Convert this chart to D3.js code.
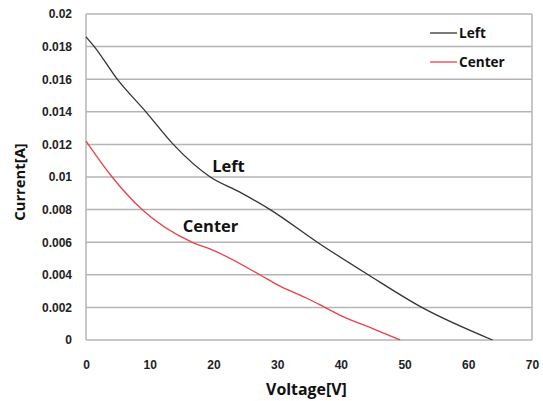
<!DOCTYPE html>
<html lang="en">
<head>
<meta charset="UTF-8">
<title>Current vs Voltage</title>
<script src="https://d3js.org/d3.v7.min.js"></script>
<style>
    body { margin: 0; background: #fff; }
    .lbl { font-family: "Open Sans", sans-serif; font-weight: bold; fill: #111; }
</style>
</head>
<body>
<svg id="chart" width="543" height="401"></svg>
<script>
    // Data
    const leftVoltage = [0, 1.3, 4.9, 9.4, 13.7, 19.5, 24, 28.9, 36.3, 44.3, 52.7, 63.8];
    const leftCurrent = [0.0186, 0.018, 0.016, 0.014, 0.012, 0.010, 0.0091, 0.008, 0.006, 0.004, 0.002, 0];
    const centerVoltage = [0, 4.1, 8.8, 16.6, 20, 27.3, 30, 35, 37.5, 40, 45, 49.3];
    const centerCurrent = [0.0122, 0.010, 0.008, 0.006, 0.0055, 0.004, 0.0034, 0.0025, 0.002, 0.0015, 0.0007, 0];
    const xTicks = [0, 10, 20, 30, 40, 50, 60, 70];
    const yTicks = [0, 0.002, 0.004, 0.006, 0.008, 0.01, 0.012, 0.014, 0.016, 0.018, 0.02];

    const series = [
        { name: "Left", color: "#333333", v: leftVoltage, c: leftCurrent },
        { name: "Center", color: "#e8414a", v: centerVoltage, c: centerCurrent }
    ];

    const margin = { top: 14, right: 11, bottom: 61, left: 86 };
    const width = 543 - margin.left - margin.right;
    const height = 401 - margin.top - margin.bottom;

    const svg = d3.select("#chart")
        .append("g")
        .attr("transform", `translate(${margin.left},${margin.top})`);

    const x = d3.scaleLinear().domain([0, 70]).range([0, width]);
    const y = d3.scaleLinear().domain([0, 0.02]).range([height, 0]);

    // Gridlines
    svg.append("g")
        .selectAll("line")
        .data(yTicks)
        .enter()
        .append("line")
        .attr("x1", 0).attr("x2", width)
        .attr("y1", d => y(d)).attr("y2", d => y(d))
        .attr("stroke", "#b4b4b4")
        .attr("stroke-width", 1.5);

    // Plot border sides
    svg.append("line").attr("x1", 0).attr("x2", 0).attr("y1", 0).attr("y2", height)
        .attr("stroke", "#b4b4b4").attr("stroke-width", 1.5);
    svg.append("line").attr("x1", width).attr("x2", width).attr("y1", 0).attr("y2", height)
        .attr("stroke", "#b4b4b4").attr("stroke-width", 1.5);

    // Axes
    const yAxis = svg.append("g")
        .call(d3.axisLeft(y).tickValues(yTicks).tickSize(0).tickPadding(14).tickFormat(d => String(+d.toFixed(3))));
    yAxis.select(".domain").remove();

    const xAxis = svg.append("g")
        .attr("transform", `translate(0,${height})`)
        .call(d3.axisBottom(x).tickValues(xTicks).tickSize(0).tickPadding(20));
    xAxis.select(".domain").remove();

    svg.selectAll(".tick text")
        .attr("font-family", "'Liberation Sans', Arial, sans-serif")
        .attr("font-weight", "bold")
        .attr("font-size", 12)
        .attr("fill", "#222");

    // Lines
    const line = d3.line()
        .curve(d3.curveMonotoneX)
        .x(d => x(d[0]))
        .y(d => y(d[1]));

    series.forEach(s => {
        svg.append("path")
            .datum(s.v.map((v, i) => [v, s.c[i]]))
            .attr("fill", "none")
            .attr("stroke", s.color)
            .attr("stroke-width", 1.3)
            .attr("d", line);
    });

    // In-plot labels
    svg.append("text").attr("class", "lbl").attr("font-size", 16.5)
        .attr("x", x(19.8)).attr("y", y(0.0103)).text("Left");
    svg.append("text").attr("class", "lbl").attr("font-size", 16.5)
        .attr("x", x(15.2)).attr("y", y(0.00663)).text("Center");

    // Legend
    const legend = svg.append("g").attr("transform", `translate(${x(54)},0)`);
    series.forEach((s, i) => {
        const ly = 19 + i * 29;
        legend.append("line").attr("x1", 0).attr("x2", 27).attr("y1", ly).attr("y2", ly)
            .attr("stroke", s.color).attr("stroke-width", 1.3);
        legend.append("text").attr("class", "lbl").attr("font-size", 13.6)
            .attr("x", 29).attr("y", ly + 5).text(s.name);
    });

    // Axis titles
    svg.append("text").attr("class", "lbl").attr("font-size", 15.9)
        .attr("text-anchor", "middle")
        .attr("x", x(34.6)).attr("y", height + 55).text("Voltage[V]");
    svg.append("text").attr("class", "lbl").attr("font-size", 14.8)
        .attr("text-anchor", "middle")
        .attr("transform", `translate(${25 - margin.left},${182 - margin.top}) rotate(-90)`)
        .text("Current[A]");
</script>
</body>
</html>
